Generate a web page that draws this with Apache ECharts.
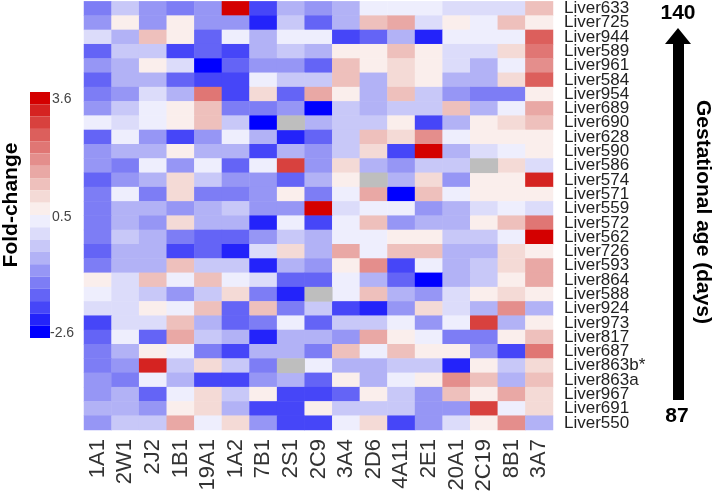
<!DOCTYPE html>
<html>
<head>
<meta charset="utf-8">
<script src="https://cdn.jsdelivr.net/npm/echarts@6/dist/echarts.min.js"></script>
<style>
html,body{margin:0;padding:0;background:#fff;}
#chart{width:714px;height:496px;}
</style>
</head>
<body>
<div id="chart"></div>
<script>
// Column (enzyme) categories
const enzymes = ['1A1','2W1','2J2','1B1','19A1','1A2','7B1','2S1','2C9','3A4','2D6','4A11','2E1','20A1','2C19','8B1','3A7'];
// Row (sample) categories, top to bottom
const samples = ['Liver633','Liver725','Liver944','Liver589','Liver961','Liver584','Liver954','Liver689','Liver690','Liver628',
  'Liver590','Liver586','Liver574','Liver571','Liver559','Liver572','Liver562','Liver726','Liver593','Liver864',
  'Liver588','Liver924','Liver973','Liver817','Liver687','Liver863b*','Liver863a','Liver967','Liver691','Liver550'];

// Fold-change values per sample (null = missing)
const liver633 = [-1.2, -0.3, -0.9, -1.2, -0.9, 3.45, -1.85, -0.6, -0.9, -0.6, 0.35, 0.35, 0.35, 0.05, 0.05, 0.05, 1.3];
const liver725 = [-0.9, 0.65, -0.9, 0.65, -0.9, -0.9, -2.15, -0.3, -1.5, -0.6, 1.3, 1.6, 0.05, 0.65, 0.35, 1.3, 0.65];
const liver944 = [0.05, -0.6, 1.3, 0.65, -1.5, 0.35, -0.6, 0.35, 0.35, -1.85, -1.5, -0.6, -2.15, 0.35, 0.35, 0.35, 2.5];
const liver589 = [-1.5, -0.3, -0.3, -1.85, -1.5, -1.85, -0.6, -0.3, -0.6, 0.65, 0.65, 1.3, 0.65, 0.05, 0.05, 0.95, 2.2];
const liver961 = [-0.9, -0.6, 0.65, 0.05, -2.45, -1.5, -0.9, -0.9, -1.5, 1.3, 0.65, 0.95, 0.65, 0.05, -0.6, 0.35, 1.9];
const liver584 = [-1.5, -0.6, -0.6, -1.5, -1.85, -1.85, 0.35, -0.3, -0.3, 1.3, -0.6, 0.95, 0.65, -0.6, -0.6, 0.95, 2.5];
const liver954 = [-1.2, -0.9, 0.05, -0.6, 2.2, -1.85, 0.95, -1.5, 1.6, 0.65, -0.6, 1.3, -0.3, -0.9, -1.2, -1.2, 0.65];
const liver689 = [-0.9, -0.3, 0.35, 0.65, 1.3, -1.2, -1.2, -0.9, -2.45, -0.3, -0.6, -0.3, -0.3, 1.3, -0.6, 0.35, 1.6];
const liver690 = [0.35, 0.05, 0.35, 0.65, 1.3, -0.3, -2.45, null, -0.6, -0.3, -0.3, 0.65, -1.85, -0.6, 0.65, 0.95, 1.3];
const liver628 = [-1.5, 0.35, -0.9, -1.85, -0.9, 0.35, -0.6, -2.15, -1.5, -0.3, 1.3, 0.95, 1.9, 0.35, 0.65, 0.65, 0.65];
const liver590 = [-0.9, -0.6, -0.6, 0.65, -0.6, -0.6, -1.85, -0.6, -0.9, -0.3, 0.95, -1.85, 3.45, -0.6, 0.05, 0.35, 0.65];
const liver586 = [-0.9, -1.2, 0.35, -0.9, 0.35, -1.5, 0.35, 2.8, -0.9, 0.95, -0.6, -0.9, -0.3, -0.3, null, 0.95, 0.05];
const liver574 = [-1.5, -0.9, -0.6, 0.95, -0.3, -0.9, -0.9, -1.5, -0.6, 0.65, null, -0.6, 0.95, -0.9, 0.65, 0.65, 3.1];
const liver571 = [-1.2, 0.35, -1.2, 0.95, -1.2, -1.2, -0.9, 0.65, -1.2, 0.35, 1.6, -2.45, 1.3, 0.35, 0.65, 0.65, 0.65];
const liver559 = [-1.2, -0.6, -0.6, -0.9, -0.6, -0.3, -0.9, -0.9, 3.45, 0.05, 0.35, 0.35, -0.9, -0.6, 0.05, 0.35, 0.05];
const liver572 = [-1.2, -0.6, -0.9, 0.95, -0.6, -0.6, -2.15, 0.35, -1.85, 0.35, 1.3, -0.9, -0.6, -0.6, 0.65, 1.3, 2.2];
const liver562 = [-1.2, -0.3, -0.6, -1.2, -1.5, -1.5, -0.9, -0.3, -0.6, 0.35, 0.35, 0.65, 0.65, -0.3, -0.3, 0.35, 3.45];
const liver726 = [-1.5, -0.6, -0.6, -1.85, -1.5, -2.15, 0.05, 0.95, -0.6, 1.6, 0.35, 1.3, 1.3, -0.6, -0.6, 0.95, 0.65];
const liver593 = [-1.2, -0.6, -0.6, 1.3, -0.3, -0.3, -2.15, -0.6, -0.9, 0.65, 1.9, -1.85, 0.35, -0.6, -0.3, 0.95, 1.6];
const liver864 = [0.65, 0.05, 1.3, 0.35, 1.3, 0.35, 0.05, -1.5, -1.5, 0.35, -0.6, -1.5, -2.45, -0.6, -0.3, 0.65, 1.6];
const liver588 = [0.35, 0.05, -0.3, -0.9, -0.3, 0.95, -1.2, -2.15, null, 0.35, 1.3, -0.6, -0.9, 0.05, 0.65, 0.95, 0.65];
const liver924 = [0.05, 0.05, 0.65, 0.35, 1.3, -1.5, 1.3, -1.2, -0.3, -1.85, -2.15, -0.9, 0.95, 0.05, -0.6, 1.9, -0.6];
const liver973 = [-1.85, 0.05, 0.05, 1.3, -0.6, -1.5, -1.2, 0.35, -1.5, -0.3, -0.3, 0.35, -0.9, 0.35, 2.8, -0.6, 0.65];
const liver817 = [-1.5, 0.35, -1.5, 1.6, -0.3, -0.6, -2.15, -0.6, -0.6, -0.9, 1.6, 0.65, 0.35, -1.2, -1.2, 0.65, 1.3];
const liver687 = [-1.2, -0.6, 0.65, 0.35, -1.2, -1.85, -0.6, -0.6, -1.2, 1.3, 0.35, 1.3, 0.65, 0.65, -0.9, -1.85, 2.2];
const liver863b = [-1.2, -0.9, 3.1, -0.3, 0.95, -0.3, -1.2, null, 0.35, -0.6, -0.6, -0.3, -0.3, -2.15, 0.65, -0.3, 0.95];
const liver863a = [-0.9, -1.2, 0.35, -0.6, -1.85, -1.85, -0.9, -0.6, -1.5, 0.65, -0.6, 0.35, 0.65, 1.9, 1.3, -0.6, 1.3];
const liver967 = [-0.9, -0.6, -1.5, 0.35, 0.95, -0.3, 0.65, -1.85, -1.85, -1.5, 0.65, -0.3, -0.9, 1.3, 0.65, 1.6, 0.95];
const liver691 = [-0.6, -0.6, -0.9, 0.65, 0.95, -0.6, -1.85, -1.85, 0.65, -0.3, -0.3, -0.3, -0.9, -0.9, 2.8, 0.35, 0.95];
const liver550 = [-0.9, -0.3, -0.3, 1.6, 0.35, 0.95, -0.9, -1.85, -1.85, 0.35, 0.95, -1.85, -0.9, 0.05, 0.65, 1.9, -0.6];

const rowValues = [liver633, liver725, liver944, liver589, liver961, liver584, liver954, liver689, liver690, liver628,
  liver590, liver586, liver574, liver571, liver559, liver572, liver562, liver726, liver593, liver864,
  liver588, liver924, liver973, liver817, liver687, liver863b, liver863a, liver967, liver691, liver550];

// Colour scale
const scaleMin = -2.6, scaleMax = 3.6;
const scaleTicks = ['3.6', '0.5', '-2.6'];
const stepColors = ['#0000ff','#2323fa','#4646f8','#6464f6','#7d7df5','#9696f5','#b2b2f6','#c8c8f8','#dcdcfa','#eeeefd',
  '#faeeec','#f4dad6','#eec0bc','#e9a8a5','#e48e8c','#e07674','#dc5f5c','#d8413e','#d52321','#d40000'];

const stepSize = (scaleMax - scaleMin) / stepColors.length;
const pieces = stepColors.map((c, i) => ({min: scaleMin + i * stepSize, max: scaleMin + (i + 1) * stepSize, color: c}));

const cells = [], missing = [];
rowValues.forEach((row, r) => row.forEach((v, c) => {
  if (v === null) missing.push([c, r, 0]); else cells.push([c, r, v]);
}));

const FONT = 'Liberation Sans, Arial, sans-serif';
const chart = echarts.init(document.getElementById('chart'), null, {renderer: 'canvas'});
chart.setOption({
  animation: false,
  backgroundColor: '#ffffff',
  grid: {left: 84, top: 1, width: 469, height: 429, containLabel: false},
  xAxis: {
    type: 'category', data: enzymes, position: 'bottom',
    axisLine: {show: false}, axisTick: {show: false}, splitArea: {show: false},
    axisLabel: {rotate: 90, fontSize: 22, color: '#333', fontFamily: FONT, margin: 9, interval: 0}
  },
  yAxis: {
    type: 'category', data: samples, position: 'right', inverse: true,
    axisLine: {show: false}, axisTick: {show: false}, splitArea: {show: false},
    axisLabel: {fontSize: 17, color: '#222', fontFamily: FONT, margin: 11, interval: 0}
  },
  visualMap: {
    type: 'piecewise', seriesIndex: 0, pieces: pieces, orient: 'vertical',
    left: 30, top: 92, padding: 0, itemWidth: 20, itemHeight: 12.3, itemGap: 0,
    itemSymbol: 'rect', showLabel: false, selectedMode: false, hoverLink: false
  },
  series: [
    {type: 'heatmap', data: cells, itemStyle: {borderWidth: 0}, emphasis: {disabled: true}},
    {type: 'heatmap', data: missing, itemStyle: {color: '#bebebe', borderWidth: 0}, emphasis: {disabled: true}}
  ],
  graphic: [
    {type: 'text', x: 52, y: 99, style: {text: scaleTicks[0], fontSize: 14, fill: '#444', fontFamily: FONT, verticalAlign: 'middle', textVerticalAlign: 'middle'}},
    {type: 'text', x: 52, y: 217, style: {text: scaleTicks[1], fontSize: 14, fill: '#444', fontFamily: FONT, verticalAlign: 'middle', textVerticalAlign: 'middle'}},
    {type: 'text', x: 50, y: 333, style: {text: scaleTicks[2], fontSize: 14, fill: '#444', fontFamily: FONT, verticalAlign: 'middle', textVerticalAlign: 'middle'}},
    {type: 'text', x: 11, y: 205, rotation: Math.PI / 2,
      style: {text: 'Fold-change', fontSize: 21, fontWeight: 'bold', fill: '#000', fontFamily: FONT,
        align: 'center', textAlign: 'center', verticalAlign: 'middle', textVerticalAlign: 'middle'}},
    {type: 'text', x: 703, y: 212, rotation: -Math.PI / 2,
      style: {text: 'Gestational age (days)', fontSize: 21, fontWeight: 'bold', fill: '#000', fontFamily: FONT,
        align: 'center', textAlign: 'center', verticalAlign: 'middle', textVerticalAlign: 'middle'}},
    {type: 'text', x: 678, y: 13,
      style: {text: '140', fontSize: 21, fontWeight: 'bold', fill: '#000', fontFamily: FONT,
        align: 'center', textAlign: 'center', verticalAlign: 'middle', textVerticalAlign: 'middle'}},
    {type: 'text', x: 677, y: 416,
      style: {text: '87', fontSize: 21, fontWeight: 'bold', fill: '#000', fontFamily: FONT,
        align: 'center', textAlign: 'center', verticalAlign: 'middle', textVerticalAlign: 'middle'}},
    {type: 'polygon', shape: {points: [[665, 44], [678, 28], [691, 44]]}, style: {fill: '#000'}},
    {type: 'rect', shape: {x: 673, y: 43, width: 11, height: 357}, style: {fill: '#000'}}
  ]
});
</script>
</body>
</html>
